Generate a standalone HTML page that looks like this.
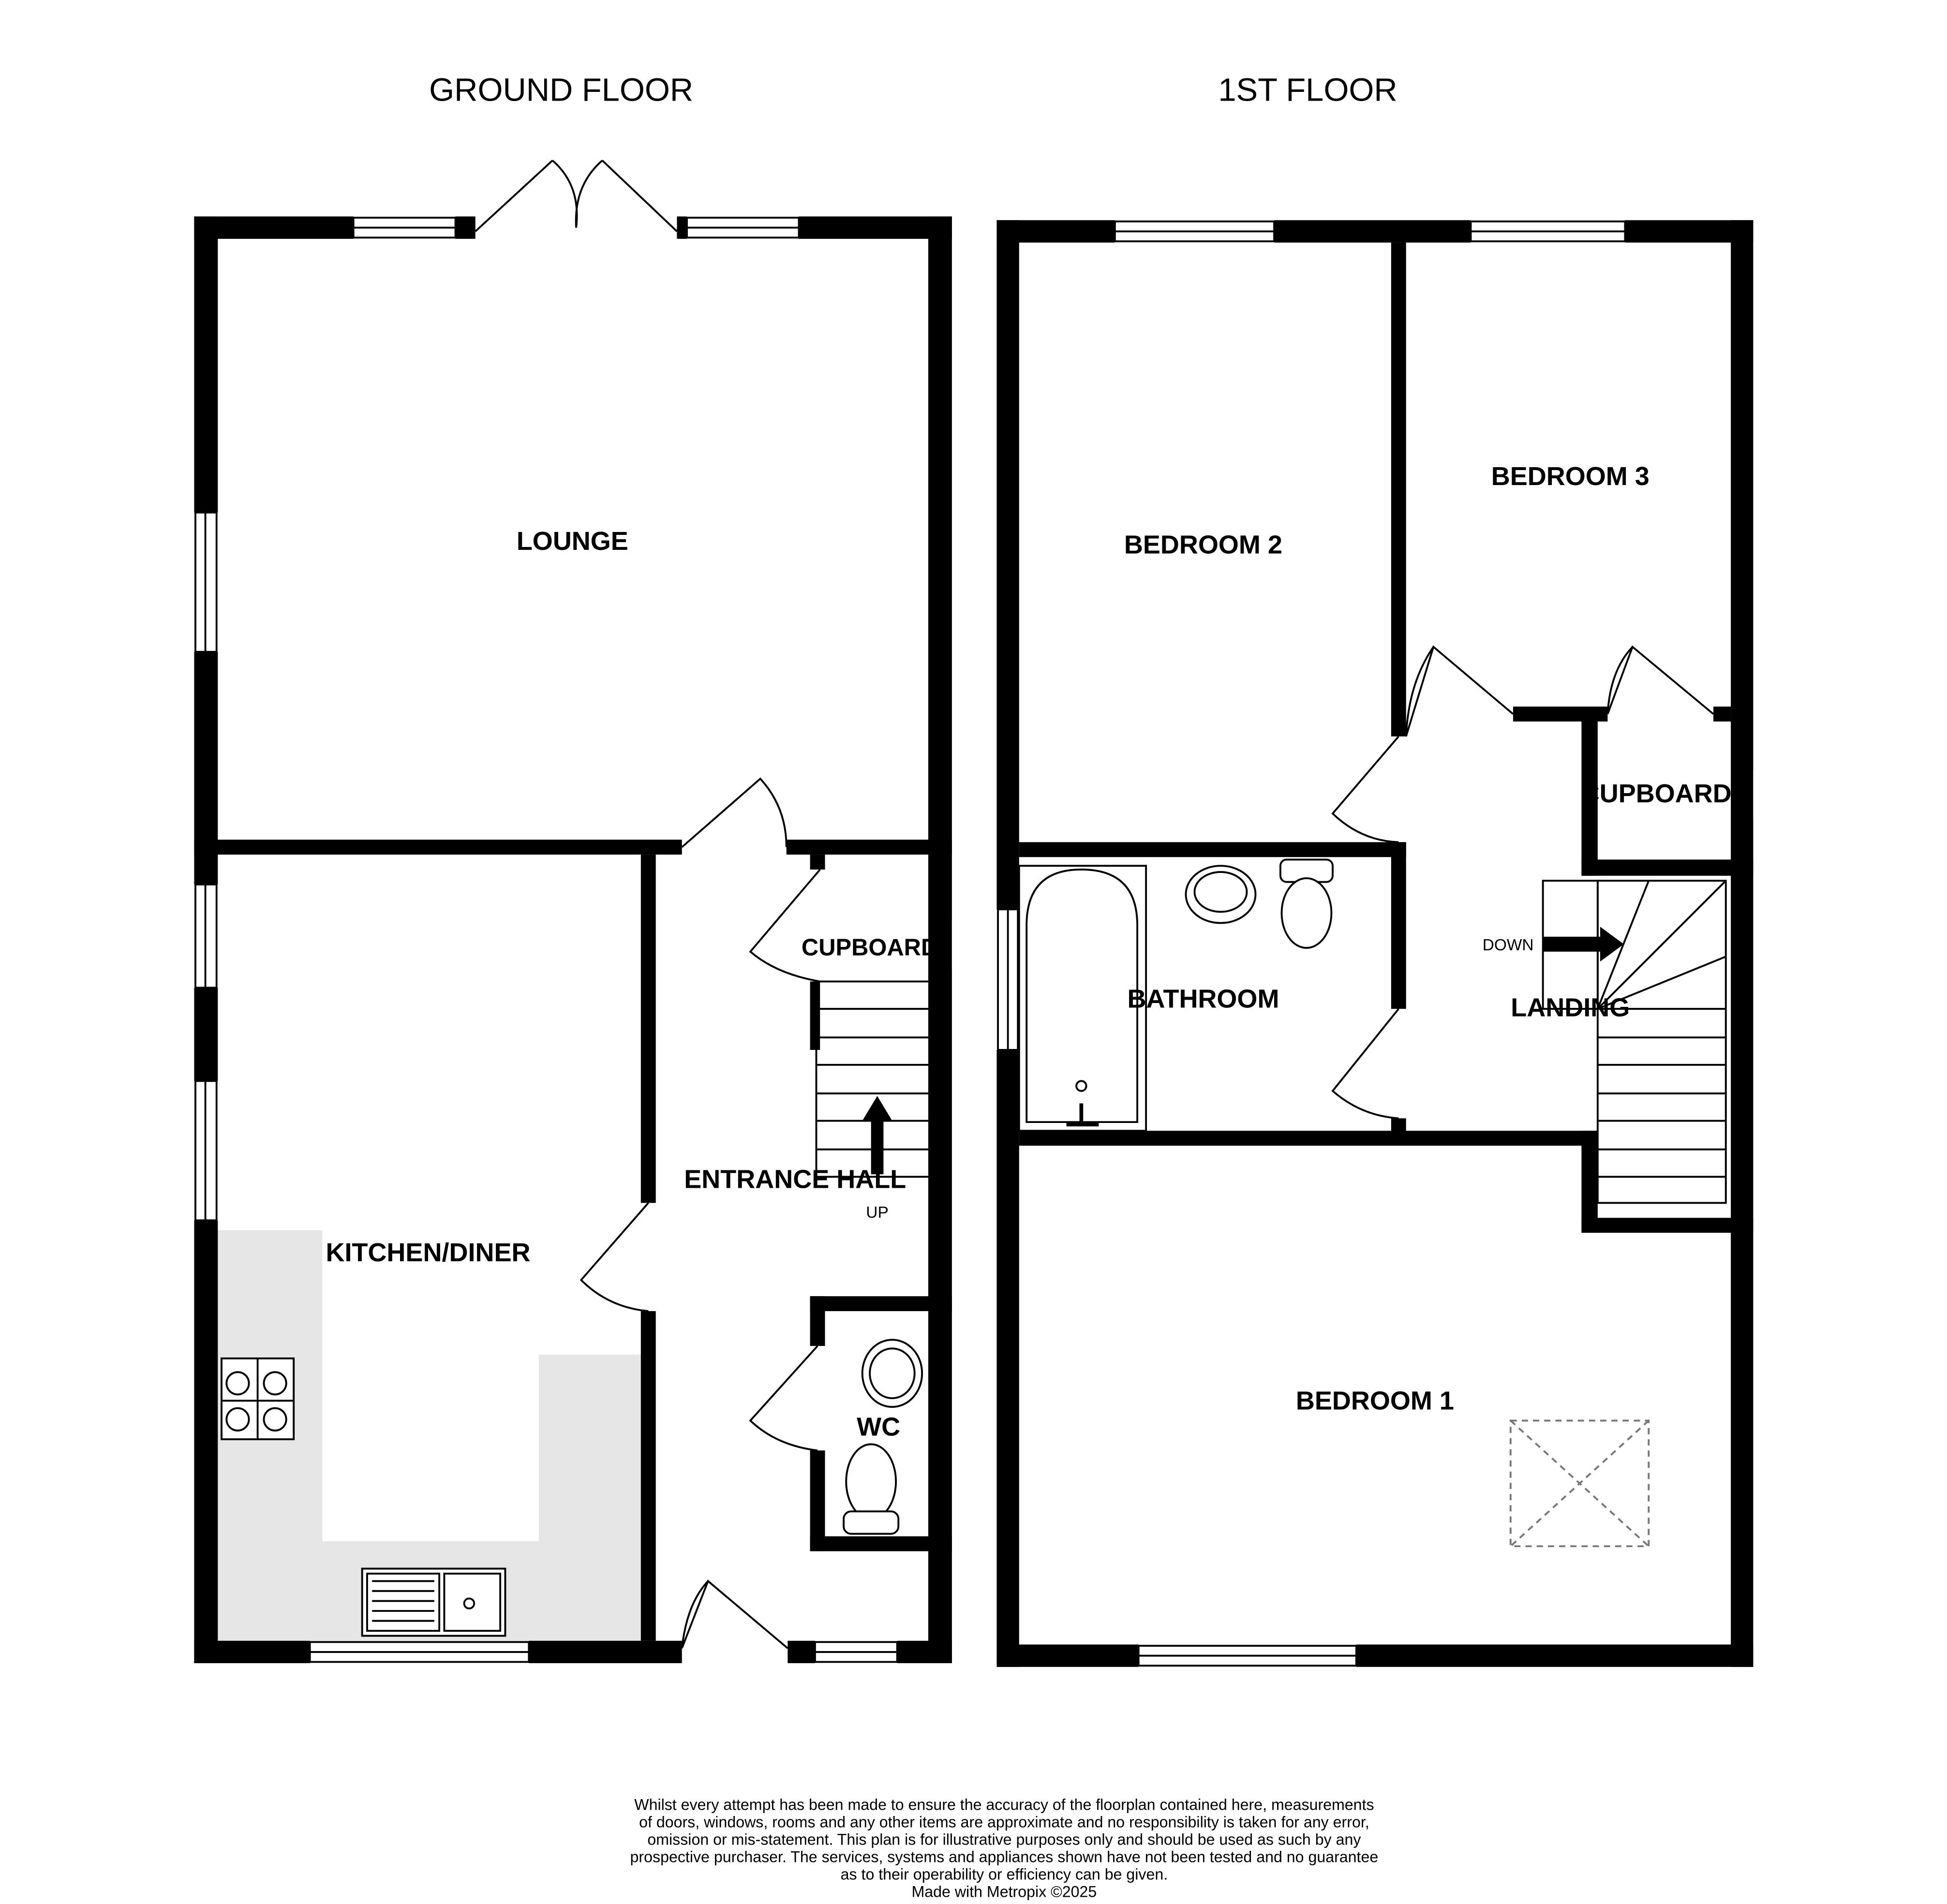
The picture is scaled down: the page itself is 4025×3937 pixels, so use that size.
<!DOCTYPE html>
<html><head><meta charset="utf-8"><style>
html,body{margin:0;padding:0;background:#fff}
svg{display:block}
text{font-family:"Liberation Sans",sans-serif}
.b{font-weight:bold;font-size:21px}
</style></head><body>
<svg width="4025" height="3937" viewBox="0 0 1560 1526" xmlns="http://www.w3.org/2000/svg">
<rect width="1560" height="1526" fill="#fff"/>
<g transform="translate(-1,-1) scale(0.997)">
<text x="452" y="82" font-size="26" text-anchor="middle">GROUND FLOOR</text>
<text x="1052" y="82" font-size="26" text-anchor="middle">1ST FLOOR</text>

<path d="M176 990H260V1240H434V1090H516V1320H176Z" fill="#e6e6e6"/>

<g fill="#000">
<rect x="157" y="175" width="128" height="18"/>
<rect x="367" y="175" width="16" height="18"/>
<rect x="545" y="175" width="8" height="18"/>
<rect x="643" y="175" width="123" height="18"/>
<rect x="157" y="175" width="19" height="238"/>
<rect x="157" y="525" width="19" height="187"/>
<rect x="157" y="795" width="19" height="75"/>
<rect x="157" y="982" width="19" height="356"/>
<rect x="747" y="175" width="19" height="1163"/>
<rect x="157" y="1320" width="93" height="18"/>
<rect x="426" y="1320" width="123" height="18"/>
<rect x="634" y="1320" width="22" height="18"/>
<rect x="722" y="1320" width="44" height="18"/>
<rect x="157" y="676" width="392" height="12"/>
<rect x="633" y="676" width="133" height="12"/>
<rect x="652" y="688" width="12" height="12"/>
<rect x="516" y="688" width="12" height="280"/>
<rect x="516" y="1055" width="12" height="265"/>
<rect x="652" y="790" width="8" height="55"/>
<rect x="652" y="1043" width="114" height="12"/>
<rect x="652" y="1043" width="12" height="40"/>
<rect x="652" y="1167" width="12" height="81"/>
<rect x="652" y="1236" width="114" height="12"/>

<rect x="802" y="178" width="95" height="18"/>
<rect x="1025" y="178" width="158" height="18"/>
<rect x="1307" y="178" width="103" height="18"/>
<rect x="802" y="178" width="18" height="554"/>
<rect x="802" y="845" width="18" height="496"/>
<rect x="1392" y="178" width="18" height="1163"/>
<rect x="802" y="1323" width="114" height="18"/>
<rect x="1091" y="1323" width="319" height="18"/>
<rect x="1119" y="196" width="12" height="397"/>
<rect x="820" y="678" width="311" height="12"/>
<rect x="1119" y="678" width="12" height="134"/>
<rect x="1119" y="900" width="12" height="22"/>
<rect x="820" y="910" width="465" height="12"/>
<rect x="1217" y="569" width="76" height="12"/>
<rect x="1378" y="569" width="14" height="12"/>
<rect x="1272" y="569" width="13" height="136"/>
<rect x="1272" y="692" width="138" height="13"/>
<rect x="1272" y="910" width="13" height="82"/>
<rect x="1272" y="980" width="138" height="12"/>
</g>

<g fill="#fff" stroke="#000" stroke-width="1.5">
<rect x="285" y="176" width="82" height="16"/><line x1="285" y1="184" x2="367" y2="184"/>
<rect x="553" y="176" width="90" height="16"/><line x1="553" y1="184" x2="643" y2="184"/>
<rect x="158" y="413" width="17" height="112"/><line x1="166" y1="413" x2="166" y2="525"/>
<rect x="158" y="712" width="17" height="83"/><line x1="166" y1="712" x2="166" y2="795"/>
<rect x="158" y="870" width="17" height="112"/><line x1="166" y1="870" x2="166" y2="982"/>
<rect x="250" y="1321" width="176" height="16"/><line x1="250" y1="1329" x2="426" y2="1329"/>
<rect x="656" y="1321" width="66" height="16"/><line x1="656" y1="1329" x2="722" y2="1329"/>
<rect x="897" y="179" width="128" height="16"/><line x1="897" y1="187" x2="1025" y2="187"/>
<rect x="1183" y="179" width="124" height="16"/><line x1="1183" y1="187" x2="1307" y2="187"/>
<rect x="803" y="732" width="16" height="113"/><line x1="811" y1="732" x2="811" y2="845"/>
<rect x="916" y="1324" width="175" height="16"/><line x1="916" y1="1332" x2="1091" y2="1332"/>
</g>

<g fill="none" stroke="#000" stroke-width="1.5">
<path d="M383 187L445 130M445 130Q468 150 464 184"/>
<path d="M545 187L485 130M485 130Q462 150 464 184"/>
<path d="M549 682L612 627Q633 650 633 682"/>
<path d="M660 700L604 766Q625 784 660 790"/>
<path d="M522 968L468 1030Q490 1052 522 1055"/>
<path d="M658 1083L604 1143Q625 1163 658 1167"/>
<path d="M549 1326L570 1272L634 1326M570 1272Q553 1290 549 1326"/>
<path d="M1131 593L1153 521L1217 575M1153 521Q1133 550 1131 593"/>
<path d="M1293 575L1313 521L1378 575M1313 521Q1295 540 1293 575"/>
<path d="M1125 593L1072 655Q1095 677 1125 678"/>
<path d="M1125 812L1072 878Q1095 898 1125 900"/>
</g>

<g fill="none" stroke="#000" stroke-width="1.5">
<rect x="657" y="790" width="96" height="157"/>
<line x1="657" y1="812" x2="753" y2="812"/><line x1="657" y1="835" x2="753" y2="835"/>
<line x1="657" y1="857" x2="753" y2="857"/><line x1="657" y1="880" x2="753" y2="880"/>
<line x1="657" y1="902" x2="753" y2="902"/><line x1="657" y1="925" x2="753" y2="925"/>
</g>
<path d="M701 945V902H694L706 882L718 902H711V945Z" fill="#000"/>
<text x="706" y="980" font-size="13" text-anchor="middle">UP</text>

<g fill="#fff" stroke="#000" stroke-width="1.5">
<ellipse cx="718" cy="1105" rx="24" ry="27"/><ellipse cx="718" cy="1105" rx="18" ry="20"/>
<ellipse cx="701" cy="1192" rx="20" ry="30"/><rect x="679" y="1216" width="44" height="18" rx="6"/>
<rect x="179" y="1093" width="58" height="65"/>
<circle cx="192" cy="1113" r="9"/><circle cx="222" cy="1113" r="9"/>
<circle cx="192" cy="1142" r="9"/><circle cx="222" cy="1142" r="9"/>
<rect x="292" y="1262" width="115" height="54"/><rect x="296" y="1266" width="58" height="46"/><rect x="358" y="1266" width="45" height="46"/>
<circle cx="378" cy="1290" r="4"/>
</g>
<g stroke="#000" stroke-width="1.5">
<line x1="300" y1="1272" x2="350" y2="1272"/><line x1="300" y1="1280" x2="350" y2="1280"/>
<line x1="300" y1="1288" x2="350" y2="1288"/><line x1="300" y1="1296" x2="350" y2="1296"/>
<line x1="300" y1="1304" x2="350" y2="1304"/>
<line x1="208" y1="1093" x2="208" y2="1158"/><line x1="179" y1="1127" x2="237" y2="1127"/>
</g>

<g fill="#fff" stroke="#000" stroke-width="1.5">
<rect x="820" y="697" width="102" height="213"/>
<path d="M826 903V745Q826 700 870 700Q915 700 915 745V903Z"/>
<circle cx="870" cy="874" r="4"/>
<ellipse cx="982" cy="720" rx="28" ry="23"/><ellipse cx="982" cy="718" rx="21" ry="16"/>
<rect x="1030" y="692" width="42" height="18" rx="5"/><ellipse cx="1051" cy="735" rx="20" ry="28"/>
</g>
<path d="M858 905H884M870 888V905" stroke="#000" stroke-width="3"/>

<g fill="none" stroke="#000" stroke-width="1.5">
<rect x="1241" y="709" width="44" height="103"/>
<rect x="1285" y="709" width="103" height="259"/>
<line x1="1285" y1="812" x2="1326" y2="709"/>
<line x1="1285" y1="812" x2="1388" y2="709"/>
<line x1="1285" y1="812" x2="1388" y2="770"/>
<line x1="1285" y1="812" x2="1388" y2="812"/>
<line x1="1285" y1="835" x2="1388" y2="835"/>
<line x1="1285" y1="857" x2="1388" y2="857"/><line x1="1285" y1="880" x2="1388" y2="880"/>
<line x1="1285" y1="902" x2="1388" y2="902"/><line x1="1285" y1="925" x2="1388" y2="925"/>
<line x1="1285" y1="947" x2="1388" y2="947"/>
</g>
<path d="M1241 754H1287V746L1306 760L1287 774V766H1241Z" fill="#000"/>
<text x="1213" y="765" font-size="13" text-anchor="middle">DOWN</text>

<g fill="none" stroke="#777" stroke-width="1.5" stroke-dasharray="5,4">
<rect x="1215" y="1143" width="111" height="101"/>
<line x1="1215" y1="1143" x2="1326" y2="1244"/><line x1="1326" y1="1143" x2="1215" y2="1244"/>
</g>

<g text-anchor="middle">
<text x="461" y="443" class="b">LOUNGE</text>
<text x="345" y="1015" class="b">KITCHEN/DINER</text>
<text x="640" y="956" class="b">ENTRANCE HALL</text>
<text x="700" y="769" class="b" style="font-size:19px">CUPBOARD</text>
<text x="707" y="1155" class="b">WC</text>
<text x="968" y="446" class="b">BEDROOM 2</text>
<text x="1263" y="391" class="b">BEDROOM 3</text>
<text x="968" y="811" class="b">BATHROOM</text>
<text x="1263" y="818" class="b">LANDING</text>
<text x="1332" y="646" class="b">CUPBOARD</text>
<text x="1106" y="1134" class="b">BEDROOM 1</text>
</g>
<rect x="766" y="740" width="30" height="40" fill="#fff"/>
<rect x="1410" y="620" width="40" height="40" fill="#fff"/>

<g font-size="12.5" text-anchor="middle">
<text x="808" y="1456">Whilst every attempt has been made to ensure the accuracy of the floorplan contained here, measurements</text>
<text x="808" y="1470">of doors, windows, rooms and any other items are approximate and no responsibility is taken for any error,</text>
<text x="808" y="1484">omission or mis-statement. This plan is for illustrative purposes only and should be used as such by any</text>
<text x="808" y="1498">prospective purchaser. The services, systems and appliances shown have not been tested and no guarantee</text>
<text x="808" y="1512">as to their operability or efficiency can be given.</text>
<text x="808" y="1526">Made with Metropix ©2025</text>
</g>
</g>
</svg>
</body></html>
